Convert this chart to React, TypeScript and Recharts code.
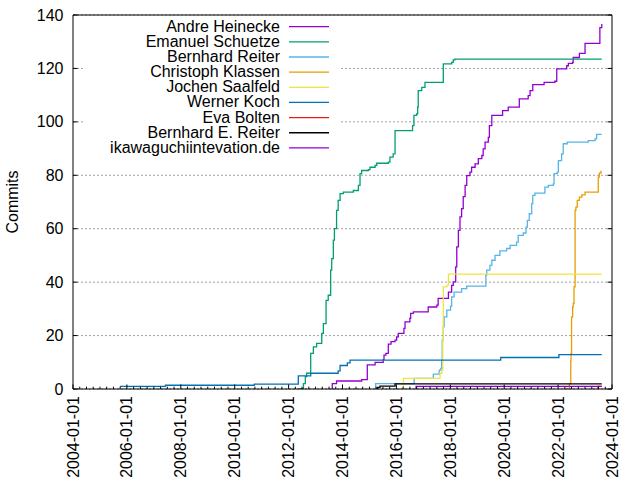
import React from 'react'
import { LineChart, Line, XAxis, YAxis, CartesianGrid } from 'recharts'

const FONT = '"Liberation Sans", Arial, Helvetica, sans-serif'

/* ─── axes ─── */
const MAJOR_YEARS = [2004, 2006, 2008, 2010, 2012, 2014, 2016, 2018, 2020, 2022, 2024]
const MINOR_PER_MAJOR = 8
const Y_TICKS = [0, 20, 40, 60, 80, 100, 120, 140]
const X_TICKS = MAJOR_YEARS.flatMap((y, i) =>
  i === MAJOR_YEARS.length - 1
    ? [y]
    : Array.from({ length: MINOR_PER_MAJOR }, (_, k) => y + (k * 2) / MINOR_PER_MAJOR),
)

/* ─── cumulative commits per author: [decimal year, commits] ─── */
const andreHeinecke: [number, number][] = [
  [2013.6, 0], [2013.62, 2], [2013.78, 3], [2014.71, 3.5], [2014.92, 9], [2015.21, 10],
  [2015.51, 11], [2015.54, 12.7], [2015.61, 13.3], [2015.7, 16.8], [2015.8, 17.7],
  [2015.95, 18.3], [2016.01, 19.5], [2016.07, 20.8], [2016.28, 22.7], [2016.32, 25.1],
  [2016.5, 26.4], [2016.53, 28.3], [2016.63, 28.9], [2017.18, 30.7], [2017.5, 31.4],
  [2017.55, 33.9], [2017.93, 36.3], [2018.05, 38.8], [2018.11, 40.1], [2018.2, 45.7],
  [2018.24, 53.2], [2018.3, 59.4], [2018.36, 64.4], [2018.42, 67.5], [2018.48, 72],
  [2018.55, 76.2], [2018.61, 79.9], [2018.73, 81.2], [2018.79, 83], [2018.92, 84.3],
  [2019.04, 86.2], [2019.17, 87.4], [2019.22, 89.9], [2019.29, 92.4], [2019.41, 94.2],
  [2019.45, 98.6], [2019.54, 102.4], [2019.94, 104.2], [2020.15, 105.5], [2020.56, 108.6],
  [2020.89, 109.8], [2020.96, 111.7], [2021.06, 113.9], [2021.48, 114.8], [2021.88, 115.2],
  [2021.95, 119.8], [2022.32, 121], [2022.38, 121.9], [2022.54, 122.3], [2022.56, 124.1],
  [2022.79, 125.6], [2023.0, 129.4], [2023.55, 135.3], [2023.62, 136.6],
]
const emanuelSchuetze: [number, number][] = [
  [2012.36, 0], [2012.55, 2], [2012.62, 4.6], [2012.67, 5.9], [2012.82, 13.3], [2012.92, 15.8],
  [2013.04, 17.1], [2013.23, 20.8], [2013.29, 24.5], [2013.39, 33.2], [2013.47, 35.1],
  [2013.56, 44.5], [2013.6, 48.8], [2013.66, 55.7], [2013.7, 60], [2013.78, 66.9],
  [2013.84, 70.6], [2013.91, 73.1], [2014.03, 73.7], [2014.4, 74.3], [2014.59, 76.2],
  [2014.65, 80.6], [2014.71, 81.8], [2014.96, 82.1], [2015.02, 83], [2015.21, 83.7],
  [2015.27, 84.5], [2015.7, 84.9], [2015.76, 86.8], [2015.88, 88], [2015.95, 96.7],
  [2016.6, 98.6], [2016.65, 102.4], [2016.75, 103], [2016.79, 105.5], [2016.81, 111.7],
  [2016.94, 112.9], [2017.06, 114.8], [2017.74, 121.7], [2018.05, 122.3], [2018.11, 123.2],
  [2018.17, 123.5], [2023.62, 123.5],
]
const bernhardReiter: [number, number][] = [
  [2015.23, 0], [2015.23, 2], [2016.66, 4], [2017.37, 5.6], [2017.59, 7.1], [2017.65, 7.7],
  [2017.68, 10.8], [2017.7, 18.3], [2017.74, 23.3], [2017.77, 27], [2017.87, 29.5],
  [2018.01, 31], [2018.05, 34.5], [2018.14, 36.3], [2018.42, 37.6], [2018.61, 38.5],
  [2019.32, 42.6], [2019.35, 44.5], [2019.47, 46.3], [2019.54, 48.2], [2019.66, 50],
  [2019.84, 51.7], [2020.09, 52.6], [2020.22, 53.8], [2020.46, 55], [2020.52, 57.5],
  [2020.71, 58.4], [2020.81, 60.6], [2020.86, 63.1], [2020.93, 65.6], [2021.02, 69.4],
  [2021.06, 72.5], [2021.14, 73.3], [2021.51, 75.6], [2021.64, 76.2], [2021.82, 76.8],
  [2021.85, 80.6], [2021.97, 81.2], [2022.01, 85.5], [2022.13, 88], [2022.19, 91.8],
  [2022.34, 92.4], [2023.12, 93], [2023.37, 93.6], [2023.43, 95.3], [2023.62, 95.3],
]
const christophKlassen: [number, number][] = [
  [2022.32, 0], [2022.42, 2], [2022.47, 10.6], [2022.48, 13.3], [2022.5, 27], [2022.54, 30.7],
  [2022.56, 32], [2022.59, 38.2], [2022.63, 66.9], [2022.66, 68.1], [2022.71, 70.6],
  [2022.79, 71.8], [2022.88, 72.7], [2023.0, 73.7], [2023.49, 79.3], [2023.53, 80.8],
  [2023.59, 81.5], [2023.62, 81.5],
]
const jochenSaalfeld: [number, number][] = [
  [2016.26, 0], [2016.26, 4], [2017.62, 5.9], [2017.68, 7.1], [2017.72, 18.3], [2017.74, 38.2],
  [2017.87, 38.8], [2017.93, 43], [2023.62, 43],
]
const wernerKoch: [number, number][] = [
  [2005.74, 1], [2007.43, 1.4], [2010.73, 1.8], [2012.36, 4.9], [2012.82, 5.9],
  [2013.84, 6.8], [2013.91, 8.8], [2014.18, 9.8], [2014.28, 10.8], [2019.87, 11.8],
  [2022.03, 12.9], [2023.62, 12.9],
]
const evaBolten: [number, number][] = [[2023.48, 0], [2023.48, 1], [2023.62, 1]]
const bernhardEReiter: [number, number][] = [
  [2015.27, 0], [2015.3, 0.6], [2015.39, 1.1], [2015.95, 1.9], [2023.62, 1.9],
]
const ikawaguchi: [number, number][] = [[2016.73, 0], [2016.73, 1], [2023.62, 1]]

const SERIES = [
  { name: 'Andre Heinecke', color: '#9400d3', points: andreHeinecke },
  { name: 'Emanuel Schuetze', color: '#009e73', points: emanuelSchuetze },
  { name: 'Bernhard Reiter', color: '#56b4e9', points: bernhardReiter },
  { name: 'Christoph Klassen', color: '#e69f00', points: christophKlassen },
  { name: 'Jochen Saalfeld', color: '#f0e442', points: jochenSaalfeld },
  { name: 'Werner Koch', color: '#0072b2', points: wernerKoch },
  { name: 'Eva Bolten', color: '#e51e10', points: evaBolten },
  { name: 'Bernhard E. Reiter', color: '#000000', points: bernhardEReiter },
  { name: 'ikawaguchiintevation.de', color: '#9400d3', points: ikawaguchi },
]

const isMajor = (v: number) => MAJOR_YEARS.some((m) => Math.abs(m - v) < 1e-6)
const fmtDate = (v: number) => `${Math.round(v)}-01-01`

const MAJ = 4.5
const MIN = 2.3

function BottomTick(props: any) {
  const { x, y, payload } = props
  const major = isMajor(payload.value)
  const ty = y + 7
  return (
    <g>
      <line x1={x} x2={x} y1={y} y2={y - (major ? MAJ : MIN)} stroke="#000" strokeWidth={1} />
      {major && (
        <text
          x={x} y={ty} transform={`rotate(-90 ${x} ${ty})`}
          textAnchor="end" dominantBaseline="central"
          fontSize={16} fontFamily={FONT} fill="#000"
        >
          {fmtDate(payload.value)}
        </text>
      )}
    </g>
  )
}

function TopTick(props: any) {
  const { x, y, payload } = props
  const major = isMajor(payload.value)
  return <line x1={x} x2={x} y1={y} y2={y + (major ? MAJ : MIN)} stroke="#000" strokeWidth={1} />
}

function LeftTick(props: any) {
  const { x, y, payload } = props
  return (
    <g>
      <line x1={x} x2={x + MAJ} y1={y} y2={y} stroke="#000" strokeWidth={1} />
      <text
        x={x - 9.5} y={y} textAnchor="end" dominantBaseline="central"
        fontSize={16} fontFamily={FONT} fill="#000"
      >
        {payload.value}
      </text>
    </g>
  )
}

function RightTick(props: any) {
  const { x, y } = props
  return <line x1={x} x2={x - MAJ} y1={y} y2={y} stroke="#000" strokeWidth={1} />
}

/* ─── gnuplot style key with opaque box ─── */
function Key() {
  return (
    <svg width={640} height={480} style={{ position: 'absolute', left: 0, top: 0, pointerEvents: 'none' }}>
      <rect x={83} y={20} width={258} height={139} fill="#fff" />
      {SERIES.map((s, i) => {
        const cy = 26.2 + i * 15.15
        return (
          <g key={s.name}>
            <text
              x={280} y={cy} textAnchor="end" dominantBaseline="central"
              fontSize={16} fontFamily={FONT} fill="#000"
            >
              {s.name}
            </text>
            <line x1={289} x2={329} y1={cy + 0.5} y2={cy + 0.5} stroke={s.color} strokeWidth={1.3} />
          </g>
        )
      })}
    </svg>
  )
}

export default function App() {
  return (
    <div style={{ position: 'absolute', left: 0, top: 0, width: 640, height: 480, background: '#fff' }}>
      <LineChart width={640} height={480} margin={{ top: 0, right: 0, bottom: 0, left: 0 }}>
        <CartesianGrid
          xAxisId="b" yAxisId="l" vertical={false}
          stroke="#a0a0a0" strokeDasharray="2 2" strokeWidth={1}
        />
        <XAxis
          xAxisId="b" type="number" dataKey="t" domain={[2004, 2024]} allowDataOverflow
          ticks={X_TICKS} interval={0} height={91} orientation="bottom"
          tickSize={0} tickMargin={0} tickLine={false}
          axisLine={{ stroke: '#000', strokeWidth: 1 }} tick={<BottomTick />}
        />
        <XAxis
          xAxisId="t" type="number" domain={[2004, 2024]} allowDataOverflow
          ticks={X_TICKS} interval={0} height={15} orientation="top"
          tickSize={0} tickMargin={0} tickLine={false}
          axisLine={{ stroke: '#000', strokeWidth: 1 }} tick={<TopTick />}
        />
        <YAxis
          yAxisId="l" type="number" domain={[0, 140]} allowDataOverflow
          ticks={Y_TICKS} interval={0} width={73} orientation="left"
          tickSize={0} tickMargin={0} tickLine={false}
          axisLine={{ stroke: '#000', strokeWidth: 1 }} tick={<LeftTick />}
          label={() => (
            <text
              x={12.5} y={202} transform="rotate(-90 12.5 202)"
              textAnchor="middle" dominantBaseline="central"
              fontSize={16} fontFamily={FONT} fill="#000"
            >
              Commits
            </text>
          )}
        />
        <YAxis
          yAxisId="r" type="number" domain={[0, 140]} allowDataOverflow
          ticks={Y_TICKS} interval={0} width={28} orientation="right"
          tickSize={0} tickMargin={0} tickLine={false}
          axisLine={{ stroke: '#000', strokeWidth: 1 }} tick={<RightTick />}
        />
        {SERIES.map((s) => (
          <Line
            key={s.name}
            xAxisId="b" yAxisId="l"
            data={s.points.map(([t, v]) => ({ t, v }))}
            dataKey="v" name={s.name}
            type="stepAfter" stroke={s.color} strokeWidth={1.3}
            dot={false} activeDot={false} isAnimationActive={false}
          />
        ))}
      </LineChart>
      <Key />
    </div>
  )
}
